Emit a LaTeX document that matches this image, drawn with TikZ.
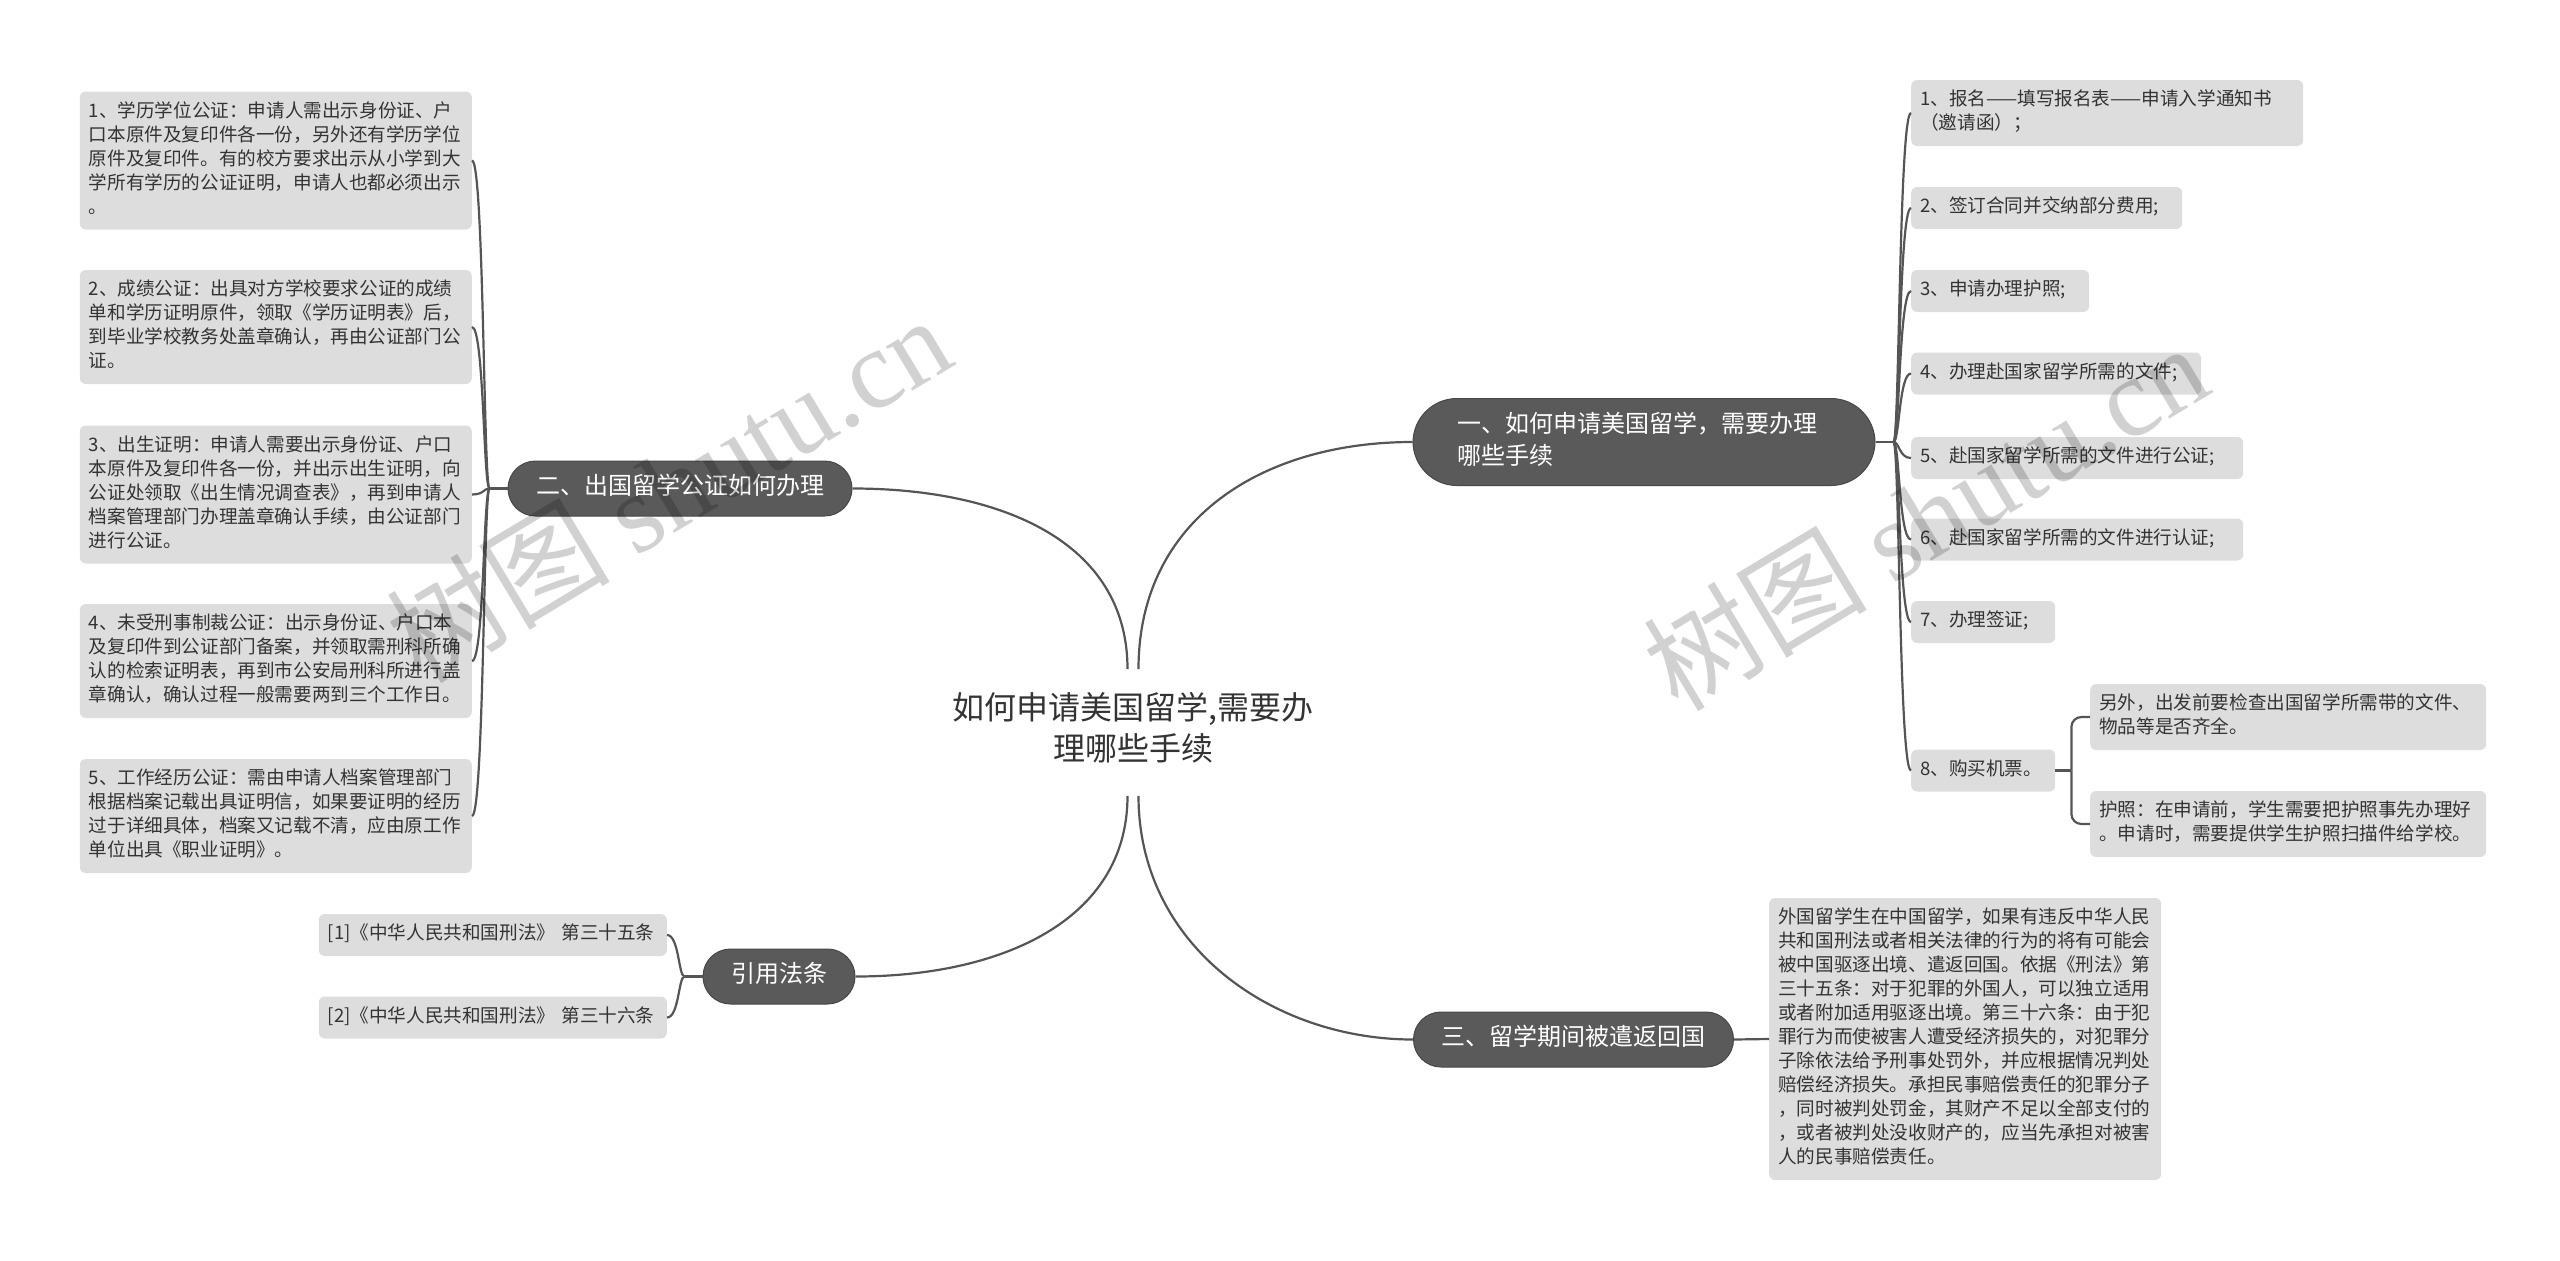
\documentclass[tikz,border=0pt]{standalone}
\usepackage{fontspec}
\setmainfont{Noto Sans CJK SC}
\newfontfamily\wmlatin{Liberation Serif}
\usetikzlibrary{calc}
\definecolor{linec}{HTML}{555555}
\definecolor{boxc}{HTML}{DDDDDD}
\definecolor{darkc}{HTML}{5A5A5A}
\definecolor{darkb}{HTML}{474747}
\definecolor{textc}{HTML}{333333}
\begin{document}
\begin{tikzpicture}[x=1pt,y=-1pt,
  conn/.style={draw=linec, line width=2.2pt},
  lbox/.style={fill=boxc, rounded corners=6pt, inner xsep=9pt, inner ysep=9pt, align=left,
    font=\fontsize{18.6}{24}\selectfont, text=textc,
    execute at begin node=\strut, execute at end node=\strut},
  dnode/.style={fill=darkc, draw=darkb, line width=1pt, text=white, inner xsep=28pt, inner ysep=11.5pt,
    rounded corners=27.5pt, font=\fontsize{24}{32}\selectfont,
    execute at begin node=\strut, execute at end node=\strut},
  wm/.style={text=black, opacity=0.18, font=\fontsize{112}{116}\selectfont, inner sep=0pt}
]
\useasboundingbox (0,0) rectangle (2560,1261);

% central
\node[align=center, inner ysep=23pt, text=textc, font=\fontsize{32}{41}\selectfont,
  execute at begin node=\strut, execute at end node=\strut] (c) at (1133,732.5)
  {如何申请美国留学,需要办\\理哪些手续};

% main branches
\node[dnode, text width=374pt, align=left, inner xsep=44pt, rounded corners=44pt] (n1) at (1644,442)
  {一、如何申请美国留学，需要办理\\哪些手续};
\node[dnode] (n2) at (680,488.5) {二、出国留学公证如何办理};
\node[dnode] (n3) at (1573.5,1039.5) {三、留学期间被遣返回国};
\node[dnode] (yin) at (779,976.5) {引用法条};

\draw[conn] ([xshift=-5.5pt]c.north) .. controls +(0,-128) and +(148,0) .. (n2.east);
\draw[conn] ([xshift=5.5pt]c.north) .. controls +(0,-150) and +(-150,0) .. (n1.west);
\draw[conn] ([xshift=-5.5pt]c.south) .. controls +(0,125) and +(145,0) .. (yin.east);
\draw[conn] ([xshift=5.5pt]c.south) .. controls +(0,150) and +(-140,0) .. (n3.west);

% left: 二
\node[lbox, text width=374pt, anchor=east] (b1) at (472,160.5)
  {1、学历学位公证：申请人需出示身份证、户\\口本原件及复印件各一份，另外还有学历学位\\原件及复印件。有的校方要求出示从小学到大\\学所有学历的公证证明，申请人也都必须出示\\。};
\node[lbox, text width=374pt, anchor=east] (b2) at (472,327)
  {2、成绩公证：出具对方学校要求公证的成绩\\单和学历证明原件，领取《学历证明表》后，\\到毕业学校教务处盖章确认，再由公证部门公\\证。};
\node[lbox, text width=374pt, anchor=east] (b3) at (472,494.5)
  {3、出生证明：申请人需要出示身份证、户口\\本原件及复印件各一份，并出示出生证明，向\\公证处领取《出生情况调查表》，再到申请人\\档案管理部门办理盖章确认手续，由公证部门\\进行公证。};
\node[lbox, text width=374pt, anchor=east] (b4) at (472,661)
  {4、未受刑事制裁公证：出示身份证、户口本\\及复印件到公证部门备案，并领取需刑科所确\\认的检索证明表，再到市公安局刑科所进行盖\\章确认，确认过程一般需要两到三个工作日。};
\node[lbox, text width=374pt, anchor=east] (b5) at (472,816)
  {5、工作经历公证：需由申请人档案管理部门\\根据档案记载出具证明信，如果要证明的经历\\过于详细具体，档案又记载不清，应由原工作\\单位出具《职业证明》。};
\coordinate (sL) at ([xshift=-18pt]n2.west);
\draw[conn] (n2.west) -- (sL);
\foreach \b in {b1,b2,b3,b4,b5}
  \draw[conn] (sL) .. controls +(-6,0) and +(12,0) .. (\b.east);

% right: 一
\node[lbox, text width=374pt, anchor=west] (r1) at (1911,113)
  {1、报名——填写报名表——申请入学通知书\\（邀请函）；};
\node[lbox, text width=253pt, anchor=west] (r2) at (1911,208) {2、签订合同并交纳部分费用;};
\node[lbox, text width=160pt, anchor=west] (r3) at (1911,291) {3、申请办理护照;};
\node[lbox, text width=272pt, anchor=west] (r4) at (1911,373.5) {4、办理赴国家留学所需的文件;};
\node[lbox, text width=314pt, anchor=west] (r5) at (1911,458) {5、赴国家留学所需的文件进行公证;};
\node[lbox, text width=314pt, anchor=west] (r6) at (1911,539.5) {6、赴国家留学所需的文件进行认证;};
\node[lbox, text width=126pt, anchor=west] (r7) at (1911,622) {7、办理签证;};
\node[lbox, text width=126pt, anchor=west] (r8) at (1911,770.5) {8、购买机票。};
\coordinate (sR) at ([xshift=18pt]n1.east);
\draw[conn] (n1.east) -- (sR);
\foreach \r in {r1,r2,r3,r4,r5,r6,r7,r8}
  \draw[conn] (sR) .. controls +(6,0) and +(-12,0) .. (\r.west);

\node[lbox, text width=378pt, anchor=west] (sa) at (2090,717)
  {另外，出发前要检查出国留学所需带的文件、\\物品等是否齐全。};
\node[lbox, text width=378pt, anchor=west] (sb) at (2090,824)
  {护照：在申请前，学生需要把护照事先办理好\\。申请时，需要提供学生护照扫描件给学校。};
\coordinate (s8) at ([xshift=16pt]r8.east);
\draw[conn] (r8.east) -- (s8);
\draw[conn, rounded corners=10pt] (s8) |- (sa.west);
\draw[conn, rounded corners=10pt] (s8) |- (sb.west);

% 三
\node[lbox, text width=374pt, anchor=west] (big) at (1769,1039)
  {外国留学生在中国留学，如果有违反中华人民\\共和国刑法或者相关法律的行为的将有可能会\\被中国驱逐出境、遣返回国。依据《刑法》第\\三十五条：对于犯罪的外国人，可以独立适用\\或者附加适用驱逐出境。第三十六条：由于犯\\罪行为而使被害人遭受经济损失的，对犯罪分\\子除依法给予刑事处罚外，并应根据情况判处\\赔偿经济损失。承担民事赔偿责任的犯罪分子\\，同时被判处罚金，其财产不足以全部支付的\\，或者被判处没收财产的，应当先承担对被害\\人的民事赔偿责任。};
\draw[conn] (n3.east) -- (big.west);

% 引用法条
\node[lbox, text width=330pt, anchor=east] (y1) at (667,935) {[1]《中华人民共和国刑法》 第三十五条};
\node[lbox, text width=330pt, anchor=east] (y2) at (667,1017.5) {[2]《中华人民共和国刑法》 第三十六条};
\coordinate (sY) at ([xshift=-18pt]yin.west);
\draw[conn] (yin.west) -- (sY);
\draw[conn] (sY) .. controls +(-6,0) and +(12,0) .. (y1.east);
\draw[conn] (sY) .. controls +(-6,0) and +(12,0) .. (y2.east);

% watermarks
\node[wm, rotate=31] (wm1) at (668,488) {树图 {\wmlatin shutu.cn}};
\node[wm, rotate=31] (wm2) at (1925,516) {树图 {\wmlatin shutu.cn}};
\end{tikzpicture}
\end{document}
